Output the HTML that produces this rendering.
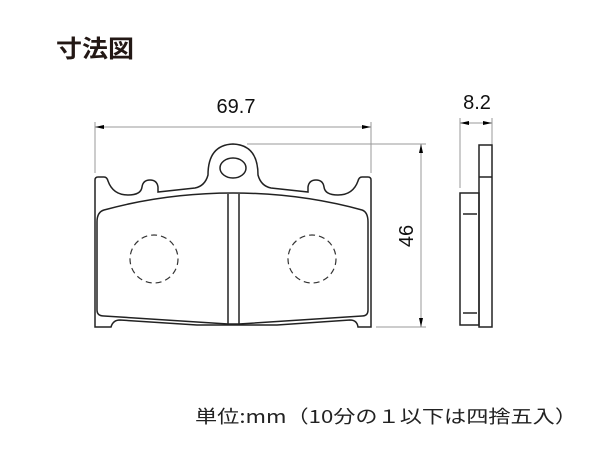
<!DOCTYPE html>
<html><head><meta charset="utf-8"><style>body{margin:0;background:#fff}svg{display:block}</style></head><body>
<svg width="600" height="450" viewBox="0 0 600 450" xmlns="http://www.w3.org/2000/svg" font-family="Liberation Sans, Noto Sans CJK JP, sans-serif">
<text x="56" y="57" font-size="24" font-weight="bold" fill="#231815" textLength="78" lengthAdjust="spacingAndGlyphs" font-family="Noto Sans CJK JP, sans-serif">寸法図</text>
<g stroke="#999" stroke-width="1" fill="none">
<line x1="95" y1="122" x2="95" y2="173"/><line x1="371" y1="122" x2="371" y2="173"/>
<line x1="95" y1="127" x2="371" y2="127"/>
<line x1="247" y1="144" x2="426" y2="144"/><line x1="376" y1="327" x2="426" y2="327"/>
<line x1="421" y1="144" x2="421" y2="327"/>
<line x1="460" y1="118" x2="460" y2="188"/><line x1="492" y1="118" x2="492" y2="152"/>
<line x1="460" y1="123" x2="492" y2="123"/>
</g>
<g fill="#000">
<polygon points="95,127 104,125 104,129"/><polygon points="371,127 362,125 362,129"/>
<polygon points="421,144 419,153 423,153"/><polygon points="421,327 419,318 423,318"/>
<polygon points="460,123 469,121 469,125"/><polygon points="492,123 483,121 483,125"/>
</g>
<text x="236" y="113" font-size="20" text-anchor="middle" fill="#111">69.7</text>
<text x="477" y="109" font-size="20" text-anchor="middle" fill="#111">8.2</text>
<text transform="translate(413,236) rotate(-90)" font-size="20" text-anchor="middle" fill="#111">46</text>
<g stroke="#222" stroke-width="1.5" fill="none">
<path d="M95,327 L95,180 Q95,177 98,177 L104,177 Q107,177 108,181 Q113,195 128,195 Q141,195 142,187 Q143,180 150,180 Q157,180 158,187 L158,192 L195,188 Q205,186 208,175 Q208,145 233,144 Q258,145 258,175 Q261,186 271,188 L308,192 L308,187 Q309,180 316,180 Q323,180 324,187 Q325,195 338,195 Q353,195 358,181 Q359,177 362,177 L368,177 Q371,177 371,180 L371,327 L358,327 Q357,320 350,320 L277,325 L197,325 L120,320 Q113,320 111,327 Z"/>
<ellipse cx="233" cy="168" rx="13" ry="10"/>
<path d="M104,210 Q97,212 97,222 L97,310 Q97,316 104,316 L228,324 L239,324 L362,316 Q368,316 368,310 L368,222 Q368,212 362,210 Q300,193 233,193 Q166,193 104,210 Z"/>
<line x1="228" y1="194" x2="228" y2="324"/><line x1="239" y1="194" x2="239" y2="324"/>
<rect x="479" y="145" width="13" height="182"/><line x1="479" y1="177" x2="492" y2="177"/>
<rect x="460" y="193" width="19" height="132"/>
<line x1="463" y1="214" x2="477" y2="214"/><line x1="463" y1="313" x2="477" y2="313"/>
</g>
<g stroke="#333" stroke-width="1.2" fill="none" stroke-dasharray="6,4">
<circle cx="154" cy="259" r="24"/><circle cx="312" cy="259" r="24"/>
</g>
<text x="195" y="423" font-size="18" fill="#222" textLength="382" lengthAdjust="spacingAndGlyphs" font-family="Noto Sans CJK JP, sans-serif">単位:mm（10分の１以下は四捨五入）</text>
</svg>
</body></html>
